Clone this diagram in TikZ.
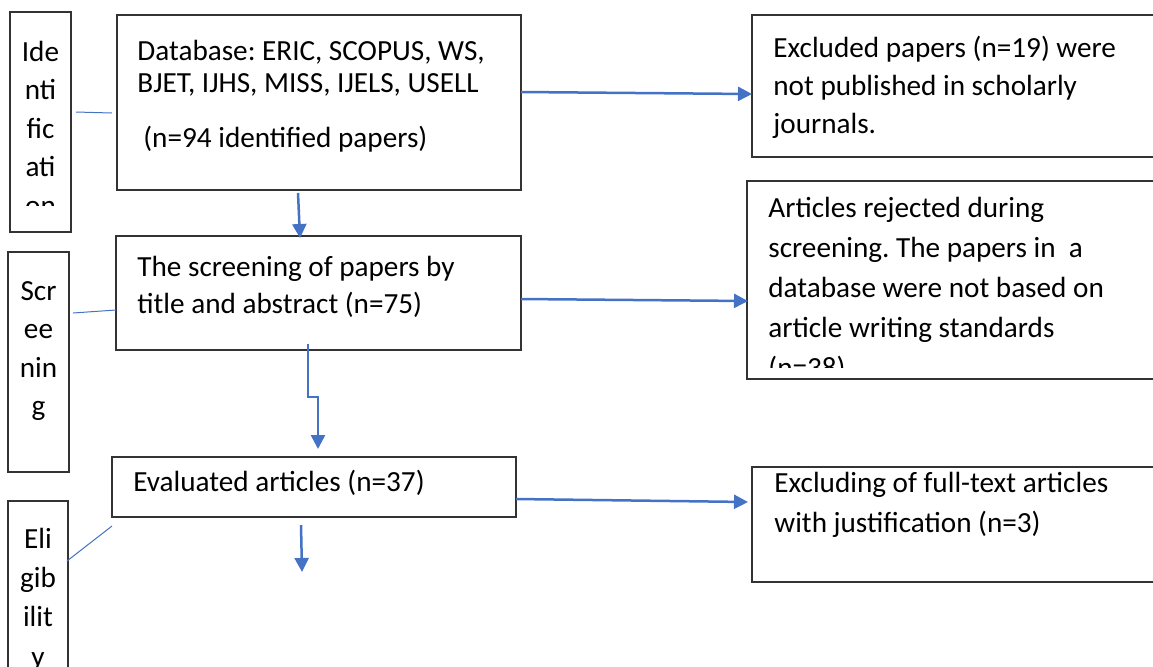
\documentclass[tikz,border=0pt]{standalone}
\usepackage{fontspec}
\setmainfont{Carlito}
\frenchspacing
\usetikzlibrary{arrows.meta}
\definecolor{flowblue}{HTML}{4472C4}
\tikzstyle{box}=[draw=black!80,line width=0.75pt,anchor=north west,inner sep=0pt,outer sep=0pt]
\tikzstyle{stage}=[box,minimum width=30.5pt,minimum height=110pt]
\tikzstyle{txt}=[anchor=base west,inner sep=0pt,align=left,font=\fontsize{14.6pt}{19.5pt}\selectfont]
\tikzstyle{stagetxt}=[txt,anchor=base,align=center,font=\fontsize{14.6pt}{19.25pt}\selectfont]
\tikzstyle{flow}=[draw=flowblue,line width=1.25pt,-{Triangle[length=7pt,width=7pt]}]
\tikzstyle{link}=[draw=flowblue,line width=0.5pt,-]

\begin{document}
\begin{tikzpicture}[x=0.5pt,y=-0.5pt]
    \useasboundingbox (0,0) rectangle (1153,666);

    \node[stage] (ident) at (10,12) {};
    \node[stage] (screenlab) at (8,252) {};
    \node[stage,minimum width=30pt] (eliglab) at (8,501) {};

    \node[box,minimum width=202pt,minimum height=87.5pt] (db) at (117,15) {};
    \node[box,minimum width=202.5pt,minimum height=57pt] (scr) at (116,236) {};
    \node[box,minimum width=202pt,minimum height=30pt] (eval) at (112,457) {};
    \node[box,minimum width=204pt,minimum height=71pt] (excl1) at (752,15) {};
    \node[box,minimum width=206.5pt,minimum height=99pt] (excl2) at (747,181) {};
    \node[box,minimum width=204pt,minimum height=57.5pt] (excl3) at (752,467) {};

    \begin{scope}
        \clip (ident.north west) rectangle ([yshift=13.5pt]ident.south east);
        \node[stagetxt] (identtxt) at (40.5,215) {Ide\\nti\\fic\\ati\\on};
    \end{scope}
    \node[stagetxt] (screentxt) at (38.5,415.5) {Scr\\ee\\nin\\g};
    \node[stagetxt,font=\fontsize{14.6pt}{19.6pt}\selectfont] (eligtxt) at (38,666) {Eli\\gib\\ilit\\y};

    \node[txt,font=\fontsize{14.6pt}{16pt}\selectfont] (dbtxt) at (137,92) {Database: ERIC, SCOPUS, WS,\\BJET, IJHS, MISS, IJELS, USELL};
    \node[txt] (dbcount) at (143,147) {(n=94 identified papers)};
    \node[txt,font=\fontsize{14.6pt}{18.5pt}\selectfont] (scrtxt) at (137,313) {The screening of papers by\\title and abstract (n=75)};
    \node[txt] (evaltxt) at (133,491) {Evaluated articles (n=37)};
    \node[txt,font=\fontsize{14.6pt}{19pt}\selectfont] (excl1txt) at (773,133) {Excluded papers (n=19) were\\not published in scholarly\\journals.};
    \begin{scope}
        \clip (excl2.north west) rectangle ([yshift=6pt]excl2.south east);
        \node[txt,font=\fontsize{14.6pt}{20pt}\selectfont] (excl2txt) at (768,377) {Articles rejected during\\screening. The papers in \ a\\database were not based on\\article writing standards\\(n=38)};
    \end{scope}
    \node[txt,font=\fontsize{14.6pt}{20pt}\selectfont] (excl3txt) at (774,532) {Excluding of full-text articles\\with justification (n=3)};

    \path[link] ([shift={(5,-10)}]ident.east) -- ([shift={(-5,10.5)}]db.west);
    \path[link] ([shift={(4,-49)}]screenlab.east) -- ([shift={(0,17)}]scr.west);
    \path[link] ([shift={(-1,-50)}]eliglab.east) -- ([shift={(0,9)}]eval.south west);

    \path[flow] ([shift={(0,-10.5)}]db.east) -- ([shift={(0,8)}]excl1.west);
    \path[flow] ([shift={(-21,3)}]db.south) -- ([shift={(-18.5,2)}]scr.north);
    \path[flow] ([shift={(0,6)}]scr.east) -- ([shift={(1,21)}]excl2.west);
    \path[flow] ([shift={(-10.5,-6)}]scr.south) -- ++(0,53) -| ([shift={(4,-8)}]eval.north);
    \path[flow] ([shift={(0,12)}]eval.east) -- ([shift={(-4,-22.5)}]excl3.west);
    \coordinate (next) at (302,572);
    \path[flow] ([shift={(-13,8)}]eval.south) -- (next);
\end{tikzpicture}
\end{document}
